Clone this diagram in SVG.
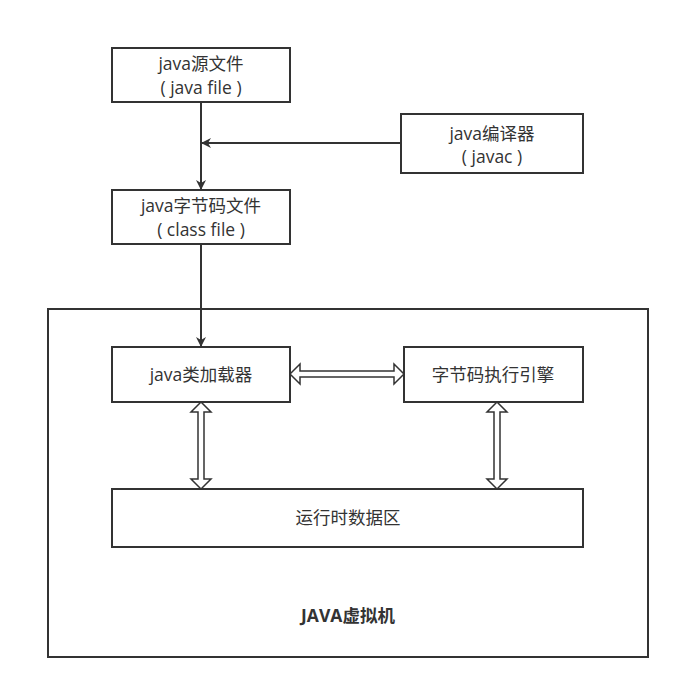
<svg xmlns="http://www.w3.org/2000/svg" width="680" height="689" viewBox="0 0 680 689">
<style>
.box{fill:#fff;stroke:#333;stroke-width:2}
.t{font-family:"Open Sans","Noto Sans CJK SC",sans-serif;font-size:17.5px;fill:#333;text-anchor:middle}
.b{font-weight:bold}
.ln{stroke:#333;stroke-width:2;fill:none}
.blk{fill:#fff;stroke:#333;stroke-width:1.5;stroke-linejoin:miter}
</style>
<defs>
<marker id="ah" markerWidth="10" markerHeight="10" refX="9" refY="5" orient="auto" markerUnits="userSpaceOnUse">
<path d="M0,0 L10,5 L0,10 L3,5 Z" fill="#333"/>
</marker>
</defs>
<rect width="680" height="689" fill="#fff"/>
<g id="jvm">
<rect class="box" x="48" y="309" width="600" height="348"/>
<text class="t b" x="348" y="622">JAVA虚拟机</text>
</g>
<g id="java-source">
<rect class="box" x="112" y="48" width="178" height="54"/>
<text class="t" x="201" y="70">java源文件</text>
<text class="t" x="201" y="94">( java file )</text>
</g>
<g id="compiler">
<rect class="box" x="401" y="114" width="182" height="59"/>
<text class="t" x="492" y="140">java编译器</text>
<text class="t" x="492" y="163">( javac )</text>
</g>
<g id="class-file">
<rect class="box" x="112" y="190" width="178" height="54"/>
<text class="t" x="201" y="212">java字节码文件</text>
<text class="t" x="201" y="236">( class file )</text>
</g>
<g id="loader">
<rect class="box" x="112" y="347" width="178" height="55"/>
<text class="t" x="201" y="381">java类加载器</text>
</g>
<g id="engine">
<rect class="box" x="404" y="347" width="179" height="55"/>
<text class="t" x="493" y="381">字节码执行引擎</text>
</g>
<g id="runtime">
<rect class="box" x="112" y="489" width="471" height="58"/>
<text class="t" x="348" y="524">运行时数据区</text>
</g>
<g id="connectors">
<line class="ln" x1="201" y1="102" x2="201" y2="189" marker-end="url(#ah)"/>
<line class="ln" x1="401" y1="143" x2="202" y2="143" marker-end="url(#ah)"/>
<line class="ln" x1="201" y1="244" x2="201" y2="346" marker-end="url(#ah)"/>
<path class="blk" d="M290,374 L300,364 L300,371 L394,371 L394,364 L404,374 L394,384 L394,377 L300,377 L300,384 Z"/>
<path class="blk" d="M201,402 L211,412 L204,412 L204,479 L211,479 L201,489 L191,479 L198,479 L198,412 L191,412 Z"/>
<path class="blk" d="M497,402 L507,412 L500,412 L500,479 L507,479 L497,489 L487,479 L494,479 L494,412 L487,412 Z"/>
</g>
</svg>
